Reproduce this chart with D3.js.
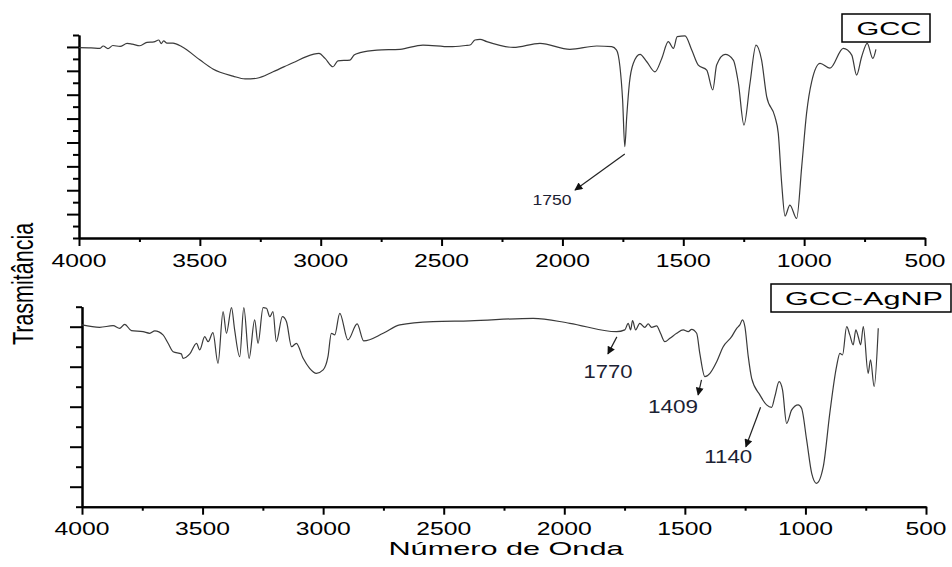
<!DOCTYPE html>
<html>
<head>
  <title>FTIR GCC / GCC-AgNP</title>
  <style>
    body {
      margin: 0;
      padding: 0;
      background-color: #fff;
    }
    svg text {
      font-family: "Liberation Sans", Arial, sans-serif;
      fill: #000;
    }
  </style>
</head>
<body>
  <div id="chart"></div>

  <script src="https://d3js.org/d3.v7.min.js"></script>
  <script>
    // x ticks (wavenumber, cm-1)
    var waveTicks = [4000, 3500, 3000, 2500, 2000, 1500, 1000, 500];
    var waveMinor = [3750, 3250, 2750, 2250, 1750, 1250, 750];

    // top panel: GCC
    var gccWave = [4000, 3950, 3913, 3900, 3880, 3860, 3830, 3801, 3780, 3748, 3719, 3690, 3670, 3660, 3650, 3636, 3611, 3574,
      3499, 3446, 3363, 3313, 3264, 3197, 3115, 3032, 3007, 2982, 2949, 2929, 2879, 2862, 2837, 2767, 2672, 2577, 2465,
      2400, 2382, 2362, 2341, 2313, 2203, 2093, 1969, 1858, 1796, 1776, 1762, 1751, 1742, 1734, 1723, 1707, 1679, 1651,
      1617, 1589, 1562, 1541, 1525, 1493, 1465, 1438, 1403, 1378, 1362, 1327, 1293, 1272, 1249, 1224, 1199, 1176, 1155,
      1121, 1107, 1093, 1079, 1059, 1031, 1010, 990, 969, 934, 893, 838, 803, 783, 762, 739, 716, 703];
    var gccTrans = [79.7, 79.6, 79.4, 80.4, 79.3, 80.6, 80.2, 81.5, 81.2, 80.5, 81.9, 82.1, 82.9, 81.4, 82.5, 81.6, 81.6, 80.1,
      74.5, 70.8, 67.8, 66.6, 66.9, 69.6, 73.4, 76.9, 77.3, 75.2, 71.7, 74.2, 74.5, 76.6, 77.6, 78.7, 79.0, 80.8, 80.1,
      80.6, 80.8, 82.9, 83.2, 82.2, 79.8, 81.5, 79.0, 80.4, 80.1, 78.7, 71.7, 57.8, 38.2, 50.8, 64.8, 73.1, 76.9, 73.8,
      69.6, 75.2, 82.2, 79.4, 84.3, 84.6, 78.7, 72.4, 70.3, 62.0, 72.4, 76.9, 74.5, 64.8, 47.3, 64.8, 80.8, 74.5, 59.2,
      50.8, 43.8, 22.9, 9.2, 13.8, 8.2, 29.9, 52.2, 65.4, 73.1, 71.1, 79.4, 76.6, 68.2, 75.9, 81.5, 75.2, 79.0];
    var gccMajor = [10, 20, 30, 40, 50, 60, 70, 80];
    var gccMinor = [0, 5, 15, 25, 35, 45, 55, 65, 75, 85];

    // bottom panel: GCC-AgNP
    var agWave = [4000, 3927, 3871, 3844, 3823, 3795, 3747, 3719, 3698, 3664, 3643, 3622, 3588, 3581, 3553, 3525, 3512, 3491,
      3477, 3457, 3436, 3415, 3401, 3380, 3367, 3346, 3329, 3307, 3284, 3270, 3249, 3235, 3221, 3208, 3194, 3169, 3152,
      3131, 3111, 3083, 3056, 3028, 3000, 2980, 2966, 2952, 2931, 2897, 2859, 2832, 2751, 2682, 2544, 2392, 2129, 1977,
      1783, 1749, 1735, 1725, 1717, 1704, 1687, 1666, 1652, 1638, 1617, 1601, 1583, 1562, 1534, 1507, 1486, 1472, 1451,
      1438, 1417, 1396, 1368, 1341, 1306, 1285, 1272, 1261, 1251, 1237, 1223, 1189, 1161, 1140, 1127, 1109, 1095, 1078,
      1057, 1030, 1016, 995, 974, 954, 926, 899, 871, 857, 846, 829, 816, 802, 791, 781, 771, 760, 740, 730, 715, 698];
    var agTrans = [90.9, 89.7, 90.5, 89.2, 91.2, 88.0, 87.5, 86.7, 87.9, 85.9, 81.7, 77.5, 76.4, 74.2, 76.4, 81.7, 78.4, 85.0,
      82.5, 87.0, 71.7, 97.5, 86.7, 99.5, 88.4, 75.0, 99.5, 74.2, 93.4, 81.7, 99.5, 99.2, 95.0, 97.5, 82.5, 95.0, 92.5,
      80.0, 81.7, 74.2, 69.2, 66.7, 68.4, 75.0, 86.7, 85.9, 96.7, 83.4, 91.4, 82.9, 86.7, 90.9, 92.5, 92.9, 94.2, 91.7,
      87.5, 88.4, 91.7, 88.4, 93.0, 88.4, 91.7, 89.7, 91.4, 89.7, 90.4, 86.7, 82.5, 84.2, 86.7, 88.4, 87.5, 88.7, 86.7,
      76.7, 65.0, 66.7, 72.5, 80.0, 85.0, 89.2, 90.9, 93.4, 90.0, 75.0, 64.2, 55.9, 50.9, 49.7, 55.0, 62.5, 58.4, 41.7,
      48.4, 50.9, 49.2, 33.4, 16.7, 11.7, 20.0, 46.7, 70.0, 76.7, 75.9, 90.0, 85.9, 80.9, 88.4, 85.0, 80.9, 90.0, 66.7,
      73.4, 60.0, 89.2];
    var agMajor = [10, 30, 50, 70, 90];
    var agMinor = [0, 20, 40, 60, 80, 100];

    // peak annotations: label, arrow start [wave, T], arrow end [wave, T], text anchor [wave, T]
    var gccNotes = [
      { label: "1750", from: [1742, 35.2], to: [1948, 20.1], at: [2043, 13.8], size: 14, len: 39 }
    ];
    var agNotes = [
      { label: "1770", from: [1782, 84.9], to: [1819, 76.4], at: [1819, 64.2], size: 18, len: 49 },
      { label: "1409", from: [1431, 63.4], to: [1445, 55.9], at: [1549, 46.7], size: 18, len: 50 },
      { label: "1140", from: [1186, 49.7], to: [1247, 30.0], at: [1320, 21.7], size: 18, len: 48 }
    ];

    var width = 952, height = 567;

    var svg = d3.select("#chart").append("svg")
      .attr("width", width)
      .attr("height", height);

    svg.append("defs").append("marker")
      .attr("id", "arrow")
      .attr("viewBox", "0 0 10 10")
      .attr("refX", 9)
      .attr("refY", 5)
      .attr("markerWidth", 10)
      .attr("markerHeight", 8)
      .attr("markerUnits", "userSpaceOnUse")
      .attr("orient", "auto")
      .append("path")
      .attr("d", "M0,0L10,5L0,10z")
      .attr("fill", "#111");

    function drawPanel(opt) {
      var x = d3.scaleLinear().domain([4000, 500]).range([opt.left, opt.right]);
      var y = d3.scaleLinear().domain(opt.yDomain).range([opt.bottom, opt.top]);
      var g = svg.append("g");

      // y axis
      g.append("g")
        .attr("transform", "translate(" + opt.left + ",0)")
        .call(d3.axisLeft(y).tickValues(opt.major).tickSize(12).tickSizeOuter(0).tickFormat(""));
      g.append("g")
        .attr("transform", "translate(" + opt.left + ",0)")
        .call(d3.axisLeft(y).tickValues(opt.minor).tickSize(6).tickSizeOuter(0).tickFormat(""));

      // x axis
      g.append("g")
        .attr("transform", "translate(0," + opt.bottom + ")")
        .call(d3.axisBottom(x).tickValues(waveTicks).tickSize(8).tickSizeOuter(0).tickFormat(""));
      g.append("g")
        .attr("transform", "translate(0," + opt.bottom + ")")
        .call(d3.axisBottom(x).tickValues(waveMinor).tickSize(4).tickSizeOuter(0).tickFormat(""));

      g.selectAll(".domain").attr("stroke", "#000").attr("stroke-width", 2);
      g.selectAll(".tick line").attr("stroke", "#000").attr("stroke-width", 2);

      g.selectAll("text.xlab")
        .data(waveTicks)
        .enter()
        .append("text")
        .attr("class", "xlab")
        .attr("x", function (d) { return x(d); })
        .attr("y", opt.bottom + 28.5)
        .attr("text-anchor", "middle")
        .attr("font-size", 18.5)
        .attr("textLength", function (d) { return String(d).length === 4 ? 55 : 41; })
        .attr("lengthAdjust", "spacingAndGlyphs")
        .text(function (d) { return d; });

      // spectrum
      var line = d3.line()
        .x(function (d) { return x(d[0]); })
        .y(function (d) { return y(d[1]); })
        .curve(d3.curveMonotoneX);

      g.append("path")
        .datum(d3.zip(opt.wave, opt.trans))
        .attr("d", line)
        .attr("fill", "none")
        .attr("stroke", "#3a3a3a")
        .attr("stroke-width", 1.2);

      // annotations
      opt.notes.forEach(function (n) {
        g.append("line")
          .attr("x1", x(n.from[0])).attr("y1", y(n.from[1]))
          .attr("x2", x(n.to[0])).attr("y2", y(n.to[1]))
          .attr("stroke", "#222")
          .attr("stroke-width", 1.2)
          .attr("marker-end", "url(#arrow)");
        g.append("text")
          .attr("x", x(n.at[0]))
          .attr("y", y(n.at[1]))
          .attr("text-anchor", "middle")
          .attr("font-size", n.size)
          .attr("textLength", n.len)
          .attr("lengthAdjust", "spacingAndGlyphs")
          .style("fill", "#1c2233")
          .text(n.label);
      });

      // legend box
      g.append("rect")
        .attr("x", opt.legend.x).attr("y", opt.legend.y)
        .attr("width", opt.legend.w).attr("height", opt.legend.h)
        .attr("fill", "#fff")
        .attr("stroke", "#000")
        .attr("stroke-width", 1.5);
      g.append("text")
        .attr("x", opt.legend.tx)
        .attr("y", opt.legend.y + opt.legend.h - 7)
        .attr("text-anchor", "middle")
        .attr("font-size", 19)
        .attr("textLength", opt.legend.tl)
        .attr("lengthAdjust", "spacingAndGlyphs")
        .text(opt.name);
    }

    drawPanel({
      name: "GCC", wave: gccWave, trans: gccTrans, notes: gccNotes,
      yDomain: [0, 85], major: gccMajor, minor: gccMinor,
      left: 79, right: 925, top: 35, bottom: 238,
      legend: { x: 842, y: 14, w: 88, h: 28, tx: 889, tl: 65 }
    });

    drawPanel({
      name: "GCC-AgNP", wave: agWave, trans: agTrans, notes: agNotes,
      yDomain: [0, 100], major: agMajor, minor: agMinor,
      left: 82, right: 926, top: 306.7, bottom: 506.7,
      legend: { x: 771, y: 284, w: 180, h: 28, tx: 864, tl: 158 }
    });

    // axis titles
    svg.append("text")
      .attr("transform", "translate(33,284) scale(1.35,1) rotate(-90)")
      .attr("text-anchor", "middle")
      .attr("font-size", 21.5)
      .text("Trasmitância");

    svg.append("text")
      .attr("x", 506)
      .attr("y", 555)
      .attr("text-anchor", "middle")
      .attr("font-size", 18.5)
      .attr("textLength", 235)
      .attr("lengthAdjust", "spacingAndGlyphs")
      .text("Número de Onda");
  </script>
</body>
</html>
